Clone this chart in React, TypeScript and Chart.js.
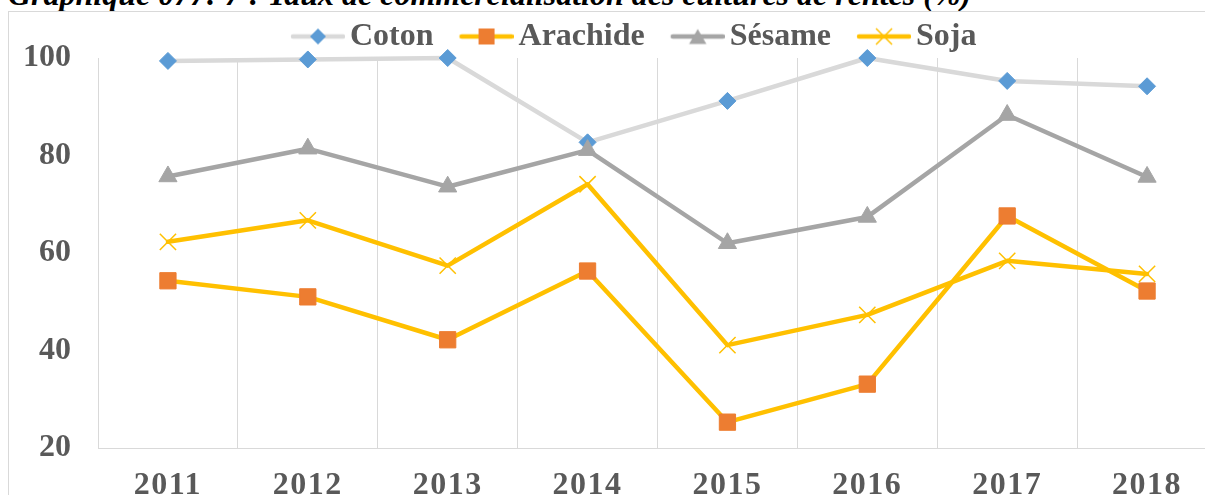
import React, { useEffect, useRef } from 'react';
import { Chart, registerables } from 'chart.js';

Chart.register(...registerables);

// ---- data ----
const YEARS = ['2011', '2012', '2013', '2014', '2015', '2016', '2017', '2018'];
const COTON = [99.4, 99.7, 100, 82.7, 91.2, 100, 95.3, 94.2];
const ARACHIDE = [54.3, 51.0, 42.2, 56.3, 25.3, 33.1, 67.6, 52.2];
const SESAME = [75.7, 81.4, 73.6, 81.1, 62.0, 67.4, 88.3, 75.6];
const SOJA = [62.3, 66.7, 57.4, 74.1, 41.1, 47.3, 58.4, 55.7];
const SERIES_NAMES = ['Coton', 'Arachide', 'Sésame', 'Soja'];
const Y_MIN = 20;
const Y_MAX = 100;
const Y_STEP = 20;
const TITLE = 'Graphique 077: 7 : Taux de commercialisation des cultures de rentes (%)';

const FONT = '"Liberation Serif", "Times New Roman", serif';
const TEXT = '#595959';
const GRID = '#d9d9d9';

type Marker = 'diamond' | 'square' | 'triangle' | 'cross';

function makeIcon(lineColor: string, marker: Marker, markerColor: string): HTMLCanvasElement {
  const c = document.createElement('canvas');
  c.width = 82;
  c.height = 26;
  const g = c.getContext('2d')!;
  const cy = 13;
  const cx = 55;
  g.strokeStyle = lineColor;
  g.lineWidth = 4.5;
  g.lineCap = 'round';
  g.beginPath();
  g.moveTo(30, cy);
  g.lineTo(80, cy);
  g.stroke();
  g.fillStyle = markerColor;
  g.strokeStyle = markerColor;
  if (marker === 'diamond') {
    const r = 8;
    g.beginPath();
    g.moveTo(cx - r, cy);
    g.lineTo(cx, cy - r);
    g.lineTo(cx + r, cy);
    g.lineTo(cx, cy + r);
    g.closePath();
    g.fill();
  } else if (marker === 'square') {
    const s = 8;
    g.fillRect(cx - s, cy - s, 2 * s, 2 * s);
  } else if (marker === 'triangle') {
    const r = 10;
    g.beginPath();
    g.moveTo(cx, cy - r * 0.75);
    g.lineTo(cx + r * 0.866, cy + r * 0.75);
    g.lineTo(cx - r * 0.866, cy + r * 0.75);
    g.closePath();
    g.fill();
  } else {
    const d = 8;
    g.lineWidth = 1.5;
    g.lineCap = 'butt';
    g.beginPath();
    g.moveTo(cx - d, cy - d);
    g.lineTo(cx + d, cy + d);
    g.moveTo(cx + d, cy - d);
    g.lineTo(cx - d, cy + d);
    g.stroke();
  }
  return c;
}

const tweaks = {
  id: 'tweaks',
  beforeLayout(chart: any) {
    const lg: any = chart.legend;
    if (lg && !lg.__trim) {
      const f = lg.fit.bind(lg);
      lg.fit = function () {
        f();
        this.height = Math.max(0, this.height - 4.5);
      };
      lg.__trim = true;
    }
  },
  afterLayout(chart: any) {
    const sx: any = chart.scales.x;
    if (sx && !sx.__ls) {
      const d = sx.drawLabels.bind(sx);
      sx.drawLabels = function (a: any) {
        const ctx: any = this.ctx;
        ctx.save();
        ctx.letterSpacing = '1.5px';
        d(a);
        ctx.restore();
      };
      sx.__ls = true;
    }
    const sy: any = chart.scales.y;
    if (sy && !sy.__nc) {
      sy._computeLabelArea = () => undefined;
      sy.__nc = true;
    }
  },
};

export default function App() {
  const ref = useRef<HTMLCanvasElement>(null);

  useEffect(() => {
    if (!ref.current) return;
    const icons = [
      makeIcon('#d9d9d9', 'diamond', '#5b9bd5'),
      makeIcon('#ffc000', 'square', '#ed7d31'),
      makeIcon('#a5a5a5', 'triangle', '#a5a5a5'),
      makeIcon('#ffc000', 'cross', '#ffc000'),
    ];
    const font = { family: FONT, size: 32, weight: 'bold' as const };
    const chart = new Chart(ref.current, {
      type: 'line',
      data: {
        labels: YEARS,
        datasets: [
          {
            label: SERIES_NAMES[0],
            data: COTON,
            borderColor: '#d9d9d9',
            borderWidth: 4.5,
            pointStyle: 'rectRot',
            pointRadius: 8.5,
            pointHoverRadius: 8.5,
            pointBackgroundColor: '#5b9bd5',
            pointBorderColor: '#5b9bd5',
            pointBorderWidth: 1,
            order: 4,
            clip: false as any,
          },
          {
            label: SERIES_NAMES[1],
            data: ARACHIDE,
            borderColor: '#ffc000',
            borderWidth: 4.5,
            pointStyle: 'rect',
            pointRadius: 11.5,
            pointHoverRadius: 11.5,
            pointBackgroundColor: '#ed7d31',
            pointBorderColor: '#ed7d31',
            pointBorderWidth: 1,
            order: 3,
            clip: false as any,
          },
          {
            label: SERIES_NAMES[2],
            data: SESAME,
            borderColor: '#a5a5a5',
            borderWidth: 4.5,
            pointStyle: 'triangle',
            pointRadius: 10.5,
            pointHoverRadius: 10.5,
            pointBackgroundColor: '#a5a5a5',
            pointBorderColor: '#a5a5a5',
            pointBorderWidth: 1,
            order: 2,
            clip: false as any,
          },
          {
            label: SERIES_NAMES[3],
            data: SOJA,
            borderColor: '#ffc000',
            borderWidth: 4.5,
            pointStyle: 'crossRot',
            pointRadius: 11.5,
            pointHoverRadius: 11.5,
            pointBackgroundColor: '#ffc000',
            pointBorderColor: '#ffc000',
            pointBorderWidth: 1.5,
            order: 1,
            clip: false as any,
          },
        ],
      },
      options: {
        responsive: false,
        animation: false,
        events: [],
        elements: { line: { capBezierPoints: false, borderJoinStyle: 'round', borderCapStyle: 'round', tension: 0 } },
        layout: { padding: { left: 32.5, right: 12, top: 11.5, bottom: 0 } },
        plugins: {
          legend: {
            position: 'top',
            align: 'center',
            labels: {
              usePointStyle: true,
              pointStyleWidth: 60,
              padding: 9,
              color: TEXT,
              font,
              sort: (a: any, b: any) => a.datasetIndex - b.datasetIndex,
              generateLabels: (ch: any) =>
                (Chart.defaults.plugins.legend.labels as any)
                  .generateLabels(ch)
                  .map((it: any) => ({ ...it, pointStyle: icons[it.datasetIndex], fontColor: TEXT })),
            },
          },
          tooltip: { enabled: false },
          title: { display: false },
        },
        scales: {
          x: {
            offset: true,
            grid: { offset: true, color: GRID, lineWidth: 1, drawTicks: false },
            border: { display: true, color: GRID, width: 1 },
            ticks: { color: TEXT, font, padding: 18.6, maxRotation: 0, autoSkip: false },
            afterFit: (s: any) => {
              s.height = 72;
            },
          },
          y: {
            min: Y_MIN,
            max: Y_MAX,
            ticks: { stepSize: Y_STEP, color: TEXT, font, padding: 27 },
            grid: { display: false, drawTicks: false },
            border: { display: false },
            afterFit: (s: any) => {
              s.width = 65.5;
            },
          },
        },
      } as any,
      plugins: [tweaks as any],
    });
    return () => chart.destroy();
  }, []);

  return (
    <div
      style={{
        position: 'absolute',
        left: 0,
        top: 0,
        width: 1205,
        height: 495,
        overflow: 'hidden',
        background: '#ffffff',
      }}
    >
      <div
        style={{
          position: 'absolute',
          left: 8,
          top: -21.8,
          font: `italic bold 32px ${FONT}`,
          lineHeight: '32px',
          whiteSpace: 'nowrap',
          color: '#000',
        }}
      >
        {TITLE}
      </div>
      <div
        style={{
          position: 'absolute',
          left: 8,
          top: 11,
          width: 1400,
          height: 600,
          border: `1px solid ${GRID}`,
          boxSizing: 'border-box',
        }}
      />
      <canvas
        ref={ref}
        width={1230}
        height={520}
        style={{ position: 'absolute', left: 0, top: 0, display: 'block' }}
      />
    </div>
  );
}
